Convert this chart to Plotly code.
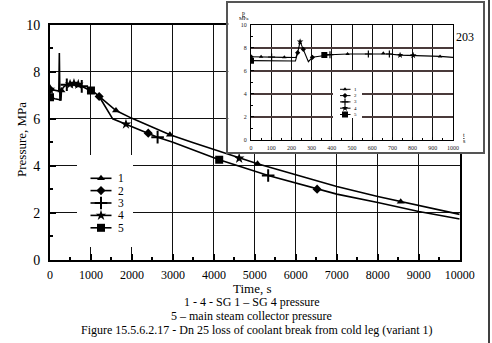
import plotly.graph_objects as go

W, H = 492, 343
FONT = "Liberation Serif"

# ---------------- main chart data (time s, pressure MPa) ----------------
t_early = [0, 150, 215, 228, 242, 268, 280, 330, 410, 490, 585, 690, 775, 880, 1000, 1100, 1200]
p_early = [7.25, 7.2, 7.18, 8.8, 6.8, 6.8, 7.2, 7.35, 7.45, 7.47, 7.5, 7.46, 7.38, 7.3, 7.2, 7.1, 6.95]
t_coll_early = [0, 120, 268]
p_coll_early = [6.92, 6.85, 6.8]
t_upper = [1200, 1610, 2000, 2500, 2927, 3500, 4000, 4617, 5065, 6000, 7000, 8000, 8560, 9000, 10000]
p_upper = [6.95, 6.35, 6.02, 5.64, 5.32, 4.98, 4.69, 4.32, 4.09, 3.62, 3.12, 2.7, 2.48, 2.31, 1.94]
t_lower = [1200, 1530, 1854, 2398, 2626, 3000, 4130, 5325, 6520, 7000, 8000, 9000, 10000]
p_lower = [6.95, 6.0, 5.77, 5.39, 5.22, 5.0, 4.26, 3.59, 3.01, 2.8, 2.44, 2.06, 1.74]

# marker points per series
s1_t = [280, 1610, 2927, 5065, 8560]
s1_p = [7.2, 6.35, 5.32, 4.09, 2.48]
s2_t = [0, 1200, 2398, 6520]
s2_p = [7.25, 6.95, 5.39, 3.01]
s3_t = [410, 775, 2626, 5325]
s3_p = [7.45, 7.38, 5.22, 3.59]
s4_t = [0, 490, 585, 690, 1854, 4617]
s4_p = [7.25, 7.47, 7.5, 7.46, 5.77, 4.32]
s5_t = [0, 1000, 4130]
s5_p = [6.92, 7.2, 4.26]

# ---------------- inset data (0..1000 s) ----------------
ti = [0, 50, 102, 165, 222, 231, 243, 259, 284, 304, 363, 391, 478, 581, 655, 685, 738, 803, 936, 1000]
pi = [7.22, 7.22, 7.2, 7.17, 7.15, 7.57, 8.53, 7.86, 6.79, 7.17, 7.37, 7.4, 7.46, 7.46, 7.52, 7.46, 7.36, 7.34, 7.25, 7.17]
ti5 = [0, 220, 231]
pi5 = [6.88, 6.85, 7.57]
i1_t = [50, 165, 478, 655, 936]
i1_p = [7.22, 7.17, 7.46, 7.52, 7.25]
i2_t = [0, 231, 259, 304]
i2_p = [7.22, 7.57, 7.86, 7.17]
i3_t = [102, 391, 581, 685]
i3_p = [7.2, 7.4, 7.46, 7.46]
i4_t = [243, 738, 803]
i4_p = [8.53, 7.36, 7.34]
i5_t = [0, 363]
i5_p = [6.88, 7.37]

names = ["1", "2", "3", "4", "5"]
symbols = ["triangle-up", "diamond", "cross-thin", "star", "square"]

x_ticks = [0, 1000, 2000, 3000, 4000, 5000, 6000, 7000, 8000, 9000, 10000]
y_ticks = [0, 2, 4, 6, 8, 10]
xi_ticks = [0, 100, 200, 300, 400, 500, 600, 700, 800, 900, 1000]

def px(x):
    return x / W

def py(y):
    return 1 - y / H

fig = go.Figure()
LINE = dict(color="black", width=1.6)

def mk(sym, size):
    if sym == "cross-thin":
        return dict(symbol=sym, size=size + 1, color="black", line=dict(color="black", width=2))
    return dict(symbol=sym, size=size, color="black", line=dict(color="black", width=0))

# main lines
fig.add_trace(go.Scatter(x=t_early, y=p_early, mode="lines", line=LINE, xaxis="x", yaxis="y"))
fig.add_trace(go.Scatter(x=t_coll_early, y=p_coll_early, mode="lines", line=LINE, xaxis="x", yaxis="y"))
fig.add_trace(go.Scatter(x=t_upper, y=p_upper, mode="lines", line=LINE, xaxis="x", yaxis="y"))
fig.add_trace(go.Scatter(x=t_lower, y=p_lower, mode="lines", line=LINE, xaxis="x", yaxis="y"))
main_marks = [(s1_t, s1_p), (s2_t, s2_p), (s3_t, s3_p), (s4_t, s4_p), (s5_t, s5_p)]
msizes = [7, 7, 8, 8, 8]
for (tt, pp), sym, sz in zip(main_marks, symbols, msizes):
    fig.add_trace(go.Scatter(x=tt, y=pp, mode="markers", marker=mk(sym, sz), xaxis="x", yaxis="y"))

# inset box (empty subplot used as white panel)
fig.add_trace(go.Scatter(x=[], y=[], xaxis="x2", yaxis="y2"))

# inset lines and markers
ILINE = dict(color="black", width=1.1)
fig.add_trace(go.Scatter(x=ti, y=pi, mode="lines", line=ILINE, xaxis="x3", yaxis="y3"))
fig.add_trace(go.Scatter(x=ti5, y=pi5, mode="lines", line=ILINE, xaxis="x3", yaxis="y3"))
inset_marks = [(i1_t, i1_p), (i2_t, i2_p), (i3_t, i3_p), (i4_t, i4_p), (i5_t, i5_p)]
isizes = [4, 4, 4, 5, 6]
def imk(sym, sz):
    if sym == "cross-thin":
        return dict(symbol=sym, size=sz + 1, color="black", line=dict(color="black", width=1.2))
    return mk(sym, sz)
for (tt, pp), sym, sz in zip(inset_marks, symbols, isizes):
    fig.add_trace(go.Scatter(x=tt, y=pp, mode="markers", marker=imk(sym, sz), xaxis="x3", yaxis="y3"))

# main legend (drawn in its own small panel, pixel coordinates)
leg_rows = [178.3, 190.6, 203.0, 215.4, 227.8]
for row, sym, sz, nm in zip(leg_rows, symbols, msizes, names):
    fig.add_trace(go.Scatter(x=[90.5, 111.5], y=[row, row], mode="lines", line=LINE,
                             xaxis="x4", yaxis="y4"))
    fig.add_trace(go.Scatter(x=[101], y=[row], mode="markers", marker=mk(sym, sz),
                             xaxis="x4", yaxis="y4"))
    fig.add_annotation(x=116.5, y=row, xref="x4", yref="y4", text=nm, showarrow=False,
                       xanchor="left", yanchor="middle", borderpad=0,
                       font=dict(family=FONT, size=11.5, color="black"))

# inset legend
ileg_rows = [89.3, 95.6, 101.9, 108.2, 114.5]
for row, sym, sz, nm in zip(ileg_rows, symbols, isizes, names):
    fig.add_trace(go.Scatter(x=[340, 350.5], y=[row, row], mode="lines", line=dict(color="black", width=1),
                             xaxis="x5", yaxis="y5"))
    fig.add_trace(go.Scatter(x=[345], y=[row], mode="markers", marker=imk(sym, sz), xaxis="x5", yaxis="y5"))
    fig.add_annotation(x=353, y=row, xref="x5", yref="y5", text=nm, showarrow=False,
                       xanchor="left", yanchor="middle", borderpad=0,
                       font=dict(family=FONT, size=5, color="black"))

TICKFONT = dict(family=FONT, size=12, color="black")
hidden = dict(showgrid=False, zeroline=False, showticklabels=False, ticks="", showline=False, automargin=False)

fig.update_layout(
    template="none",
    width=W, height=H, autosize=False,
    margin=dict(l=0, r=0, t=0, b=0, pad=0, autoexpand=False),
    paper_bgcolor="white", plot_bgcolor="white",
    showlegend=False,
    font=dict(family=FONT, color="black"),
    xaxis=dict(domain=[px(50), px(459.7)], range=[0, 10000], tickvals=x_ticks, automargin=False,
               ticktext=[str(v) for v in x_ticks], showgrid=True, gridcolor="#111", gridwidth=1,
               zeroline=False, showline=True, linecolor="black", linewidth=2, mirror=True,
               ticks="inside", ticklen=6, tickcolor="black", tickwidth=1.5,
               minor=dict(dtick=500, ticks="inside", ticklen=3, tickcolor="black", tickwidth=1.5, showgrid=False),
               tickfont=TICKFONT, ticklabelstandoff=3, anchor="y"),
    yaxis=dict(domain=[1 - 260 / H, 1 - 24.7 / H], range=[0, 10], tickvals=y_ticks, automargin=False,
               ticktext=[str(v) for v in y_ticks], showgrid=True, gridcolor="#111", gridwidth=1,
               zeroline=False, showline=True, linecolor="black", linewidth=2, mirror=True,
               ticks="inside", ticklen=6, tickcolor="black", tickwidth=1.5,
               minor=dict(dtick=1, ticks="inside", ticklen=3, tickcolor="black", tickwidth=1.5, showgrid=False),
               tickfont=dict(family=FONT, size=14, color="black"), ticklabelstandoff=5, anchor="x"),
    xaxis2=dict(domain=[px(228.3), px(482.7)], range=[0, 1], anchor="y2", **{**hidden, "showline": True},
                linecolor="#555", linewidth=1.5, mirror=True),
    yaxis2=dict(domain=[1 - 152 / H, 1 - 3.3 / H], range=[0, 1], anchor="x2", **{**hidden, "showline": True},
                linecolor="#555", linewidth=1.5, mirror=True),
    xaxis3=dict(domain=[px(251), px(453)], range=[0, 1000], tickvals=xi_ticks, automargin=False,
                ticktext=[str(v) for v in xi_ticks], showgrid=True, gridcolor="#111", gridwidth=1,
                zeroline=False, showline=True, linecolor="black", linewidth=1, mirror=True,
                ticks="inside", ticklen=3, tickcolor="black",
                minor=dict(dtick=50, ticks="inside", ticklen=2, tickcolor="black", showgrid=False),
                tickfont=dict(family=FONT, size=6, color="#222"), ticklabelstandoff=2, anchor="y3"),
    yaxis3=dict(domain=[1 - 140 / H, 1 - 24.7 / H], range=[0, 10], tickvals=y_ticks, automargin=False,
                ticktext=[str(v) for v in y_ticks], showgrid=True, gridcolor="#4a3a3a", gridwidth=2,
                zeroline=False, showline=True, linecolor="black", linewidth=1, mirror=True,
                ticks="inside", ticklen=3, tickcolor="black",
                minor=dict(dtick=1, ticks="inside", ticklen=2, tickcolor="black", showgrid=False),
                tickfont=dict(family=FONT, size=6, color="#222"), ticklabelstandoff=2, anchor="x3"),
    xaxis4=dict(domain=[px(77), px(133)], range=[77, 133], anchor="y4", **hidden),
    yaxis4=dict(domain=[1 - 247 / H, 1 - 155 / H], range=[247, 155], anchor="x4", **hidden),
    xaxis5=dict(domain=[px(333), px(362)], range=[333, 362], anchor="y5", **hidden),
    yaxis5=dict(domain=[1 - 118 / H, 1 - 72 / H], range=[118, 72], anchor="x5", **hidden),
)

def ann(x, y, text, size, **kw):
    fig.add_annotation(x=px(x), y=py(y), xref="paper", yref="paper", text=text, showarrow=False,
                       xanchor=kw.get("xanchor", "center"), yanchor="middle", borderpad=0,
                       textangle=kw.get("angle", 0),
                       font=dict(family=FONT, size=size, color="black"))

ann(252, 288.5, "Time, s", 13)
ann(252, 302, "1 - 4 - SG 1 \u2013 SG 4 pressure", 12)
ann(251, 315.8, "5 \u2013 main steam collector pressure", 12)
ann(257, 330, "Figure 15.5.6.2.17 - Dn 25 loss of coolant break from cold leg (variant 1)", 12)
ann(21, 140, "Pressure, MPa", 13, angle=-90)
ann(465, 37, "203", 12)
ann(243.5, 13, "<u>p</u>", 6)
ann(243.5, 19, "MPa", 5)
ann(464, 135, "<u>t</u>", 6)
ann(464, 141, "s", 6)

# scanned page border on the right
fig.add_shape(type="line", xref="paper", yref="paper", x0=px(489), x1=px(489), y0=0, y1=1,
              line=dict(color="black", width=1.5))

fig.write_html("out.html")
